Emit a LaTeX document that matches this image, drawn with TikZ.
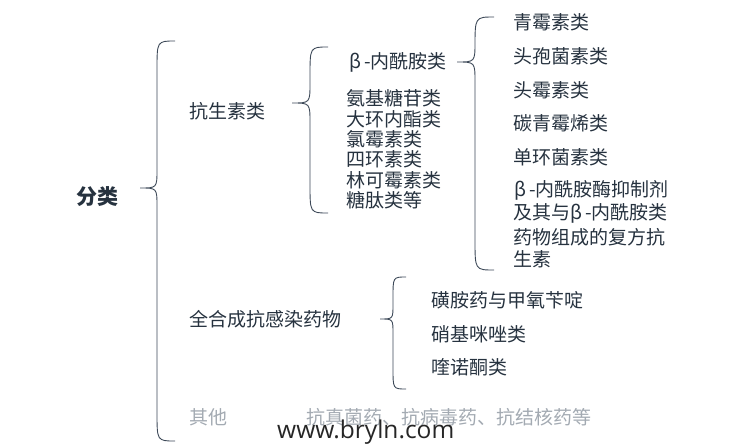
\documentclass[tikz,border=0pt]{standalone}
\usepackage{fontspec}
\newfontfamily\cjk{Noto Sans CJK SC}
\newfontfamily\wmfont{Open Sans}
\definecolor{txt}{HTML}{26323F}
\definecolor{brc}{HTML}{3C4857}
\definecolor{lgray}{HTML}{A3AAB2}
\newcommand\mybrace[6]{%
  \draw[brc, line width=0.9pt]
    (#1,#4) .. controls (#2,#4) .. ({#2},{#4+1.6*(#1-#2)})
    -- ({#2},{#5-1.1*(#2-#3)}) .. controls (#2,#5) .. (#3,#5)
    .. controls (#2,#5) .. ({#2},{#5+1.1*(#2-#3)})
    -- ({#2},{#6-1.6*(#1-#2)}) .. controls (#2,#6) .. (#1,#6);}
\begin{document}
\begin{tikzpicture}[x=1pt,y=-1pt,
  every node/.style={inner sep=0pt, anchor=west},
  lbl/.style={font=\cjk\fontsize{19}{21}\selectfont, text=txt},
  glbl/.style={font=\cjk\fontsize{19}{21}\selectfont, text=lgray}]
\useasboundingbox (0,0) rectangle (745,447);
% level 0
\node[font=\cjk\bfseries\fontsize{21}{24}\selectfont, text=txt] (root) at (76,197) {分类};
\mybrace{175}{157}{140}{41}{188}{441}
% level 1
\node[lbl] (kss) at (189,111) {抗生素类};
\node[lbl] (qhc) at (189,319) {全合成抗感染药物};
\node[glbl] (qt) at (189,417) {其他};
\node[glbl] (kzj) at (306,417) {抗真菌药、抗病毒药、抗结核药等};
% antibiotics brace
\mybrace{328}{310}{292}{47}{103}{213}
\node[lbl] (bnx) at (349,62) {β\,-内酰胺类};
\node[lbl] (a1) at (346,98) {氨基糖苷类};
\node[lbl] (a2) at (346,119) {大环内酯类};
\node[lbl] (a3) at (346,139) {氯霉素类};
\node[lbl] (a4) at (346,159) {四环素类};
\node[lbl] (a5) at (346,180) {林可霉素类};
\node[lbl] (a6) at (346,200) {糖肽类等};
% beta-lactam brace
\mybrace{494}{475}{457}{17}{62}{270}
\node[lbl] (b1) at (513,22) {青霉素类};
\node[lbl] (b2) at (513,56) {头孢菌素类};
\node[lbl] (b3) at (513,90) {头霉素类};
\node[lbl] (b4) at (513,123) {碳青霉烯类};
\node[lbl] (b5) at (513,157) {单环菌素类};
\node[lbl] (b6) at (514,190) {β\,-内酰胺酶抑制剂};
\node[lbl] (b7) at (513,213) {及其与β\,-内酰胺类};
\node[lbl] (b8) at (513,237) {药物组成的复方抗};
\node[lbl] (b9) at (513,259) {生素};
% synthetic brace
\mybrace{406}{393}{380}{277}{319}{389}
\node[lbl] (c1) at (431,300) {磺胺药与甲氧苄啶};
\node[lbl] (c2) at (431,334) {硝基咪唑类};
\node[lbl] (c3) at (431,367) {喹诺酮类};
% watermark
\node[font=\wmfont\fontsize{24.5}{26}\selectfont, text=black!85, anchor=base west] (wm) at (277,438) {www.bryln.com};
\end{tikzpicture}
\end{document}
